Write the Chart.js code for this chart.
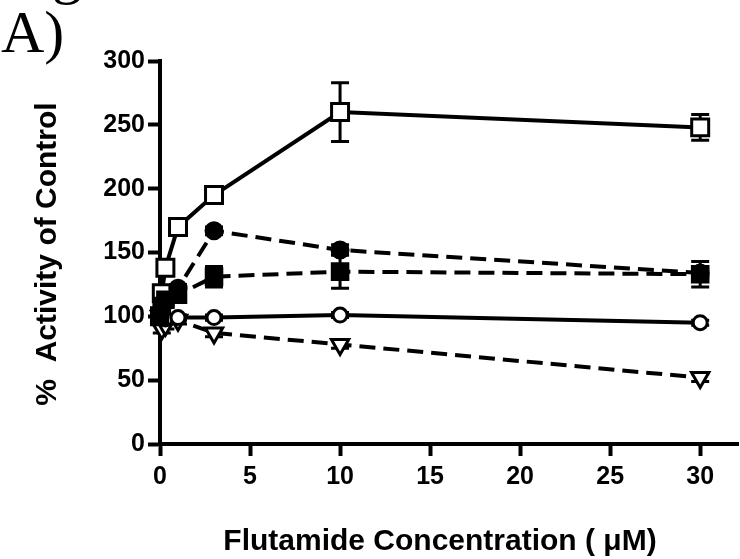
<!DOCTYPE html>
<html>
<head>
<meta charset="utf-8">
<script src="https://cdn.jsdelivr.net/npm/chart.js@4/dist/chart.umd.min.js"></script>
<style>
  html, body { margin: 0; padding: 0; background: #fff; }
  #wrap { width: 740px; height: 559px; overflow: hidden; }
</style>
</head>
<body>
<div id="wrap"><canvas id="chart" width="740" height="559"></canvas></div>
<script>
// concentrations (uM) and % activity of control
const concentrations = [0, 0.1, 0.3, 1, 3, 10, 30];
const xTicks = [0, 5, 10, 15, 20, 25, 30];
const yTicks = [0, 50, 100, 150, 200, 250, 300];

const openSquare = [100, 118, 138, 170, 195, 260, 248];
const openSquareErr = [0, 4, 5, 4, 6, 23, 10];

const filledCircle = [100, 106, 112, 122, 167, 152, 134];
const filledCircleErr = [0, 3, 3, 3, 3, 4, 3];

const filledSquare = [100, 108, 113, 117, 131, 135, 133];
const filledSquareErr = [0, 4, 5, 5, 8, 13, 10];

const openCircle = [100, 100, 98, 99, 99, 101, 95];
const openCircleErr = [0, 2, 2, 2, 2, 2, 2];

const triangleDown = [100, 90, 93, 97, 87, 78, 52];
const triangleDownErr = [0, 3, 3, 3, 3, 3, 3];

const xTitle = "Flutamide Concentration ( \u03bcM)";
const yTitle = "%  Activity of Control";
const panelLabel = "A)";

const DASH = [16, 8];

function toPoints(values) {
    return concentrations.map((x, i) => ({ x: x, y: values[i] }));
}

function series(values, errs, style, fill, dashed, rotation, radius, order) {
    return {
        data: toPoints(values),
        errors: errs,
        showLine: true,
        borderColor: "#000",
        borderWidth: 4,
        borderDash: dashed ? DASH : [],
        pointStyle: style,
        pointRotation: rotation || 0,
        pointRadius: radius,
        pointBorderWidth: 3,
        pointBorderColor: "#000",
        pointBackgroundColor: fill,
        tension: 0,
        clip: false,
        order: order,
    };
}

// error bars drawn under the lines and markers
const errorBars = {
    id: "errorBars",
    beforeDatasetsDraw(chart) {
        const ctx = chart.ctx;
        const xs = chart.scales.x;
        const ys = chart.scales.y;
        ctx.save();
        ctx.strokeStyle = "#000";
        ctx.lineWidth = 3;
        chart.data.datasets.forEach((ds) => {
            ds.data.forEach((p, i) => {
                const e = ds.errors[i];
                if (!e) return;
                const px = xs.getPixelForValue(p.x);
                const top = ys.getPixelForValue(p.y + e);
                const bot = ys.getPixelForValue(p.y - e);
                ctx.beginPath();
                ctx.moveTo(px, top);
                ctx.lineTo(px, bot);
                ctx.moveTo(px - 9, top);
                ctx.lineTo(px + 9, top);
                ctx.moveTo(px - 9, bot);
                ctx.lineTo(px + 9, bot);
                ctx.stroke();
            });
        });
        ctx.restore();
    },
};

// titles and panel letter
const labels = {
    id: "labels",
    afterDraw(chart) {
        const ctx = chart.ctx;
        ctx.save();
        ctx.fillStyle = "#000";

        ctx.font = "60px 'Liberation Serif', 'Times New Roman', serif";
        ctx.textAlign = "left";
        ctx.textBaseline = "alphabetic";
        ctx.fillText(panelLabel, 1, 52);
        ctx.fillText("g", 52, -8);

        ctx.font = "bold 30px 'Liberation Sans', Arial, sans-serif";
        ctx.textAlign = "center";
        ctx.textBaseline = "middle";
        ctx.fillText(xTitle, 440, 542);

        ctx.translate(48, 254);
        ctx.rotate(-Math.PI / 2);
        ctx.fillText(yTitle, 0, 0);
        ctx.restore();
    },
};

const tickFont = { family: "'Liberation Sans', Arial, sans-serif", size: 25, weight: "bold" };

new Chart(document.getElementById("chart"), {
    type: "scatter",
    data: {
        datasets: [
            series(openSquare, openSquareErr, "rect", "#fff", false, 0, 12, 3),
            series(filledCircle, filledCircleErr, "circle", "#000", true, 0, 8, 1),
            series(filledSquare, filledSquareErr, "rect", "#000", true, 0, 11, 0),
            series(openCircle, openCircleErr, "circle", "#fff", false, 0, 7, 2),
            series(triangleDown, triangleDownErr, "triangle", "#fff", true, 180, 10, 4),
        ],
    },
    options: {
        responsive: false,
        animation: false,
        layout: {
            autoPadding: false,
            padding: { top: 61, right: 2, left: 0, bottom: 0 },
        },
        plugins: {
            legend: { display: false },
            tooltip: { enabled: false },
        },
        scales: {
            x: {
                type: "linear",
                min: 0,
                max: 32.1,
                afterBuildTicks(scale) {
                    scale.ticks = xTicks.map((v) => ({ value: v }));
                },
                afterFit(scale) {
                    scale.height = 115;
                    scale.paddingLeft = 0;
                    scale.paddingRight = 0;
                },
                border: { display: true, color: "#000", width: 4 },
                grid: {
                    drawOnChartArea: false,
                    drawTicks: true,
                    tickLength: 12,
                    tickWidth: 4,
                    tickColor: "#000",
                },
                ticks: { color: "#000", font: tickFont, padding: 6, maxRotation: 0 },
            },
            y: {
                type: "linear",
                min: 0,
                max: 300,
                afterBuildTicks(scale) {
                    scale.ticks = yTicks.map((v) => ({ value: v }));
                },
                afterFit(scale) {
                    scale.width = 160;
                    scale.paddingTop = 0;
                    scale.paddingBottom = 0;
                },
                border: { display: true, color: "#000", width: 4 },
                grid: {
                    drawOnChartArea: false,
                    drawTicks: true,
                    tickLength: 12,
                    tickWidth: 4,
                    tickColor: "#000",
                },
                ticks: { color: "#000", font: tickFont, padding: 3 },
            },
        },
    },
    plugins: [errorBars, labels],
});
</script>
</body>
</html>
